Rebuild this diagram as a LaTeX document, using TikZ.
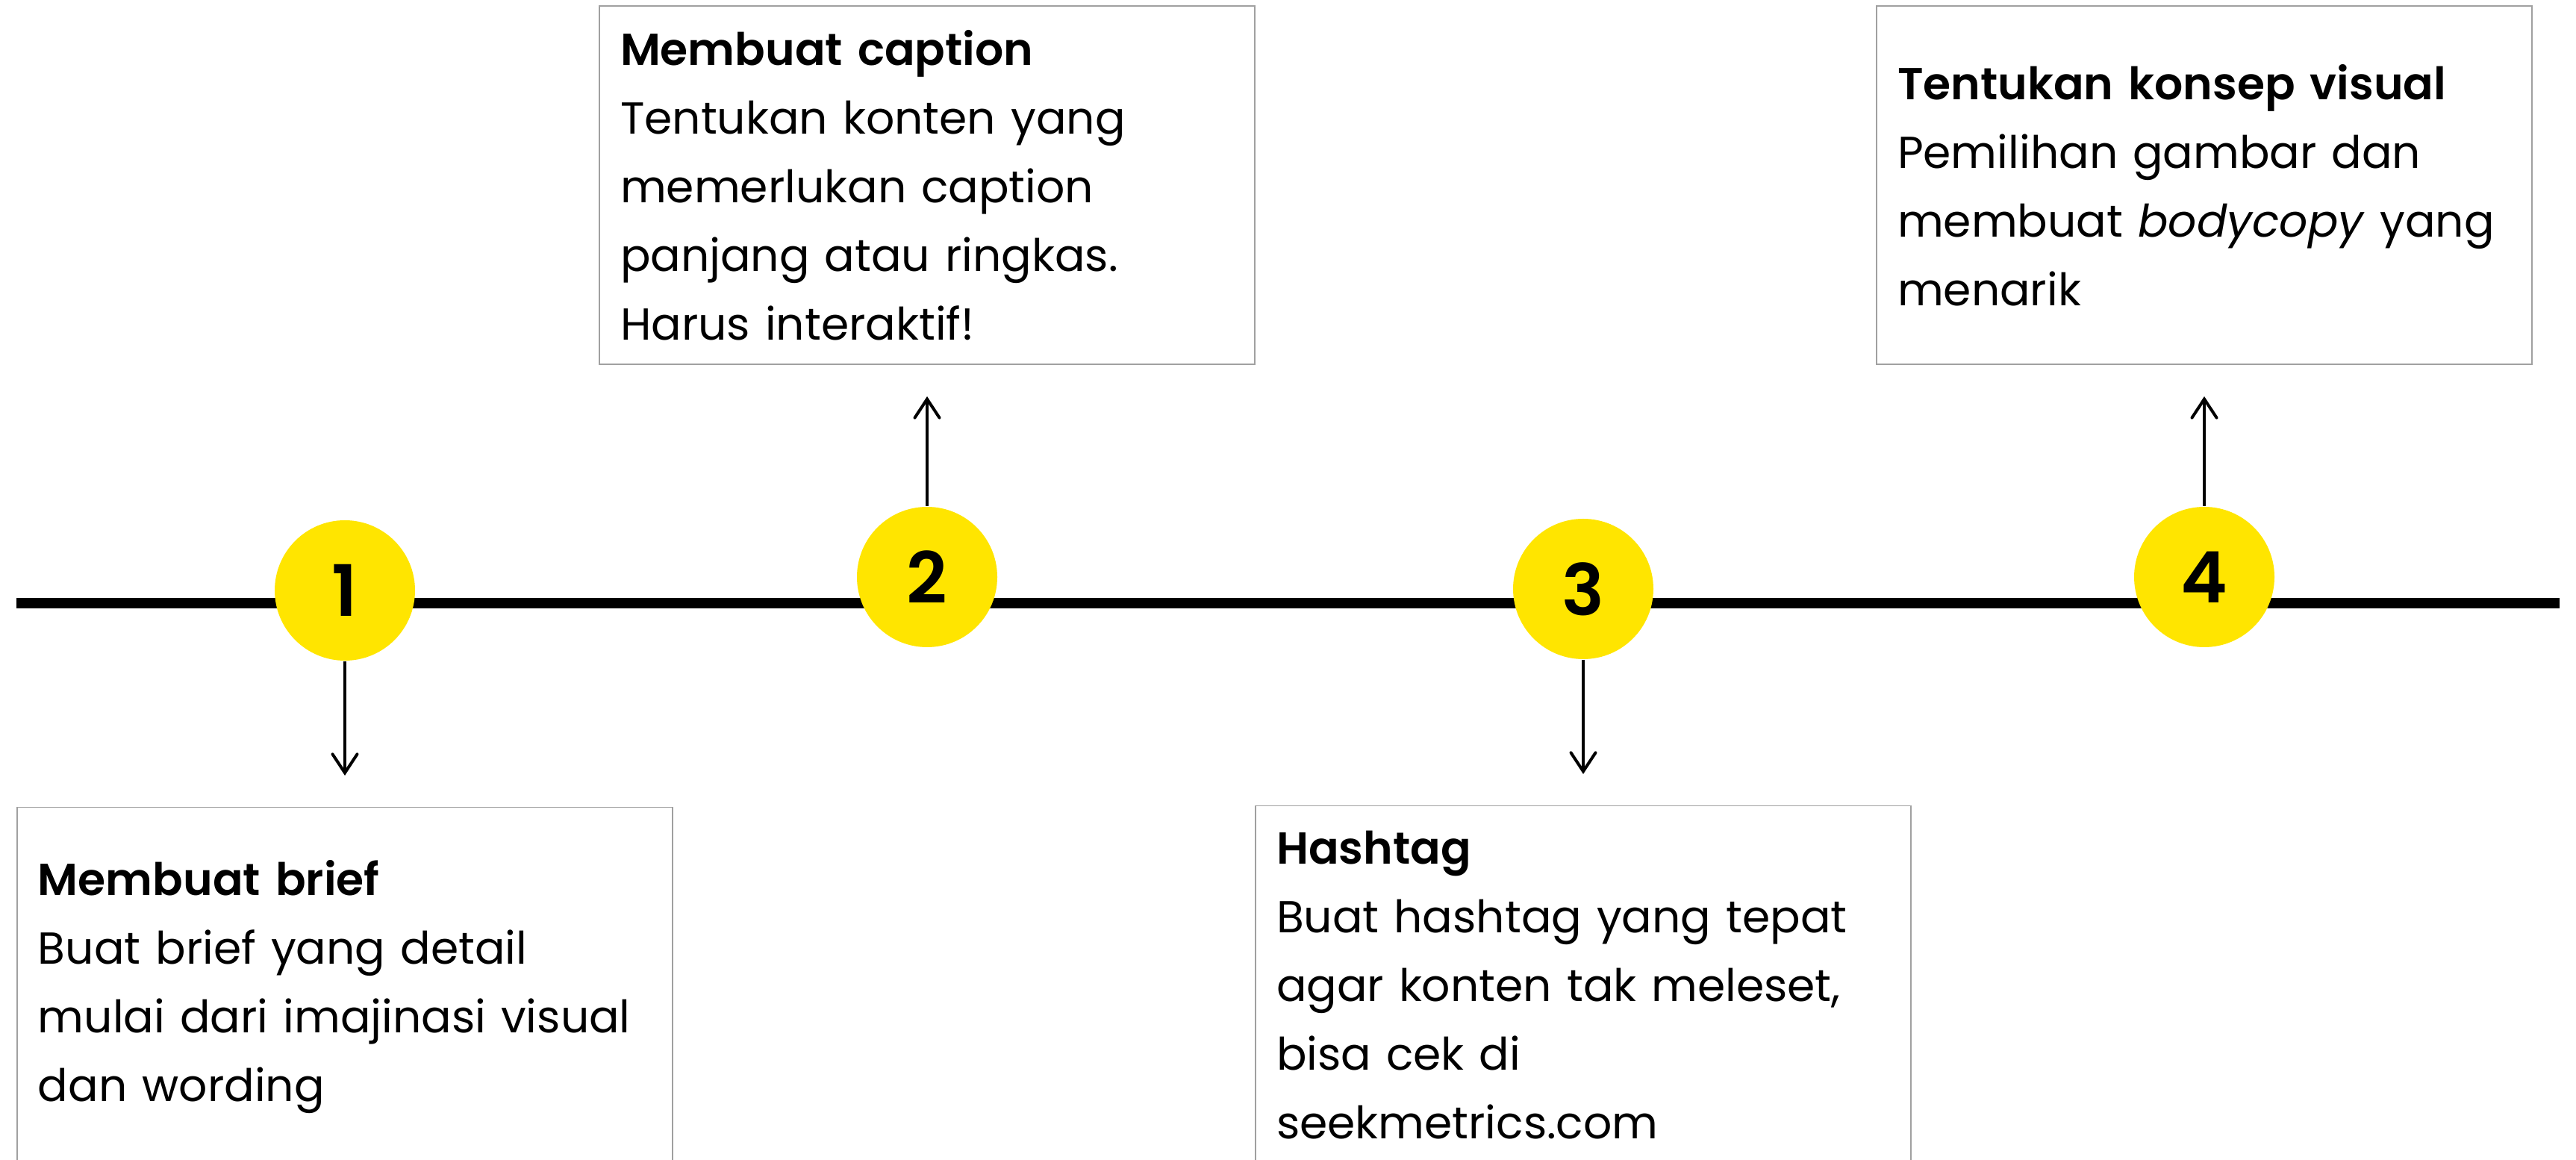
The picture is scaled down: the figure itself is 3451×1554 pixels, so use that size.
\documentclass[tikz,border=0pt]{standalone}
\usepackage{fontspec}
\setmainfont{Poppins}[BoldFont={Poppins SemiBold}]
\usetikzlibrary{positioning}
\usetikzlibrary{arrows.meta}
\definecolor{stepyellow}{HTML}{FFE500}
\definecolor{boxgray}{HTML}{A0A0A0}
\begin{document}
\begin{tikzpicture}[x=0.2pt,y=-0.2pt,>={Straight Barb[length=5pt,width=6.6pt,line cap=round]},
    stepdot/.style={circle,fill=stepyellow,minimum size=37.6pt,inner sep=0pt,font=\fontsize{19}{19}\selectfont\bfseries},
    infobox/.style={rectangle,draw=boxgray,line width=0.3pt,fill=white,minimum width=175.6pt,minimum height=96pt,inner xsep=5.6pt,text width=164.4pt,align=left,font=\fontsize{12}{18.4}\selectfont},
    link/.style={->,line width=0.8pt,shorten >=8.4pt}]
  \clip (0,0) rectangle (3451,1554);
  \coordinate (start) at (22,808);
  \coordinate (end)   at (3429,808);
  \draw[line width=2.8pt] (start) -- (end);
  %
  \node[stepdot] (one)   at (462,791)  {1};
  \node[stepdot] (two)   at (1242,773) {2};
  \node[stepdot] (three) at (2121,789) {3};
  \node[stepdot] (four)  at (2953,773) {4};
  %
  \node[infobox] (brief)   [below=39pt of one]   {\textbf{Membuat brief}\\Buat brief yang detail\\mulai dari imajinasi visual\\dan wording};
  \node[infobox] (caption) [above=37.8pt of two] {\textbf{Membuat caption}\\Tentukan konten yang\\memerlukan caption\\panjang atau ringkas.\\Harus interaktif!};
  \node[infobox] (hashtag) [below=39pt of three] {\textbf{Hashtag}\\Buat hashtag yang tepat\\agar konten tak meleset,\\bisa cek di\\seekmetrics.com};
  \node[infobox] (konsep)  [above=37.8pt of four] {\textbf{Tentukan konsep visual}\\Pemilihan gambar dan\\membuat \textit{bodycopy} yang\\menarik};
  %
  \draw[link] (one) -- (brief);
  \draw[link] (two) -- (caption);
  \draw[link] (three) -- (hashtag);
  \draw[link] (four) -- (konsep);
\end{tikzpicture}
\end{document}
